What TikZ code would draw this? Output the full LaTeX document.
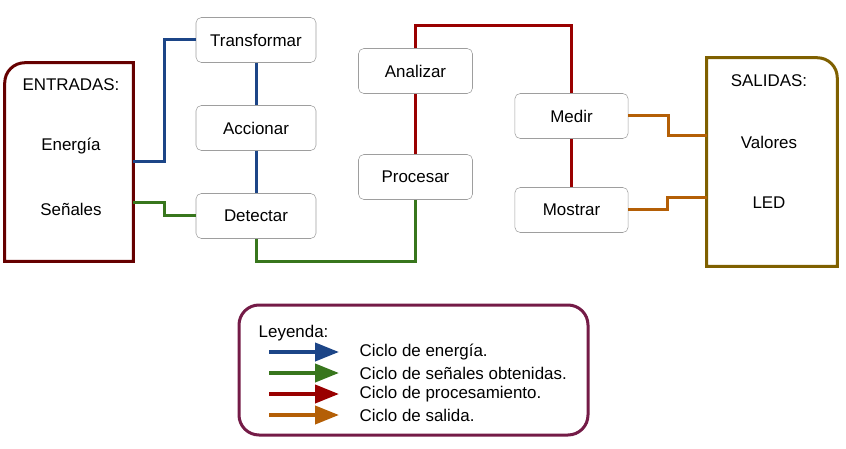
\documentclass[tikz,border=0pt]{standalone}
\usepackage{fontspec}
\setmainfont{Liberation Sans}
\usetikzlibrary{positioning,arrows.meta,calc}
\definecolor{EnergyBlue}{RGB}{28,69,135}
\definecolor{SignalGreen}{RGB}{56,118,29}
\definecolor{ProcRed}{RGB}{153,0,0}
\definecolor{OutOrange}{RGB}{180,95,6}
\definecolor{InMaroon}{RGB}{102,0,0}
\definecolor{OutOlive}{RGB}{127,96,0}
\definecolor{KeyPlum}{RGB}{116,27,71}
\definecolor{StepGray}{RGB}{158,158,158}
\tikzset{
  txt/.style={font=\fontsize{12.7}{15}\selectfont},
  stepbox/.style={txt,draw=StepGray,fill=white,rounded corners=4pt,
    minimum height=33.75pt,align=center},
  sidebox/.style={minimum width=96pt,minimum height=148.5pt},
  energy/.style={line width=2.25pt,draw=EnergyBlue},
  signal/.style={line width=2.25pt,draw=SignalGreen},
  proc/.style={line width=2.25pt,draw=ProcRed},
  output/.style={line width=2.25pt,draw=OutOrange}
}
\begin{document}
\begin{tikzpicture}[x=0.75pt,y=-0.75pt]
  \useasboundingbox (0,0) rectangle (846,449);

  % entradas / salidas
  \node[sidebox] (entradas) at (69,162) {};
  \draw[InMaroon,line width=2.25pt] (entradas.south east) -- (entradas.south west)
    -- ([yshift=-15pt]entradas.north west) arc[start angle=180,end angle=90,radius=15pt]
    -- (entradas.north east) -- cycle;
  \node[txt] (entlabel) at (71,85) {ENTRADAS:};
  \node[txt] (energia) at (71,146) {Energía};
  \node[txt] (senales) at (71,209) {Señales};

  \node[sidebox,minimum width=97.5pt,minimum height=156pt] (salidas) at (772,162) {};
  \draw[OutOlive,line width=2.25pt] (salidas.south west) -- (salidas.south east)
    -- ([yshift=-15pt]salidas.north east) arc[start angle=0,end angle=90,radius=15pt]
    -- (salidas.north west) -- cycle;
  \node[txt] (sallabel) at (769,81) {SALIDAS:};
  \node[txt] (valores) at (769,142) {Valores};
  \node[txt] (led) at (769,203) {LED};

  % pasos
  \node[stepbox,minimum width=90pt] (transformar) at (256,40) {Transformar};
  \node[stepbox,minimum width=90pt] (accionar) at (256,128) {Accionar};
  \node[stepbox,minimum width=90pt] (detectar) at (256,216) {Detectar};
  \node[stepbox,minimum width=85.5pt] (analizar) at (415.5,71) {Analizar};
  \node[stepbox,minimum width=85.5pt] (procesar) at (415.5,177) {Procesar};
  \node[stepbox,minimum width=85pt] (medir) at (571.5,116) {Medir};
  \node[stepbox,minimum width=85pt] (mostrar) at (571.5,210) {Mostrar};

  % ciclos
  \draw[energy] (entradas.east) -- ++(31,0) |- (transformar.west);
  \draw[energy] (transformar) -- (accionar);
  \draw[energy] (accionar) -- (detectar);
  \draw[signal] ($(entradas.east)+(0,41)$) -- ++(31,0) |- (detectar.west);
  \draw[signal] (detectar.south) -- ++(0,23) -| (procesar.south);
  \draw[proc] (procesar) -- (analizar);
  \draw[proc] (analizar.north) -- ++(0,-23) -| (medir.north);
  \draw[proc] (medir) -- (mostrar);
  \draw[output] (medir.east) -- ++(40,0) |- ($(salidas.west)+(0,-26)$);
  \draw[output] (mostrar.east) -- ++(39,0) |- ($(salidas.west)+(0,36)$);

  % leyenda
  \node[draw=KeyPlum,line width=2.25pt,rounded corners=15pt,
    minimum width=261.75pt,minimum height=97.5pt] (leyenda) at (413.5,370) {};
  \node[txt,anchor=west] (leytitle) at (254,333) {Leyenda:};
  \foreach \c/\t [count=\i] in {EnergyBlue/Ciclo de energía.,
      SignalGreen/Ciclo de señales obtenidas.,
      ProcRed/Ciclo de procesamiento.,
      OutOrange/Ciclo de salida.}{
    \coordinate (ka\i) at (269,331+21*\i);
    \coordinate (kb\i) at (339,331+21*\i);
    \draw[\c,line width=3pt,-{Triangle[length=18pt,width=13.5pt]}] (ka\i) -- (kb\i);
    \node[txt,anchor=west] (kt\i) at (355,331+21*\i) {\t};
  }
\end{tikzpicture}
\end{document}
